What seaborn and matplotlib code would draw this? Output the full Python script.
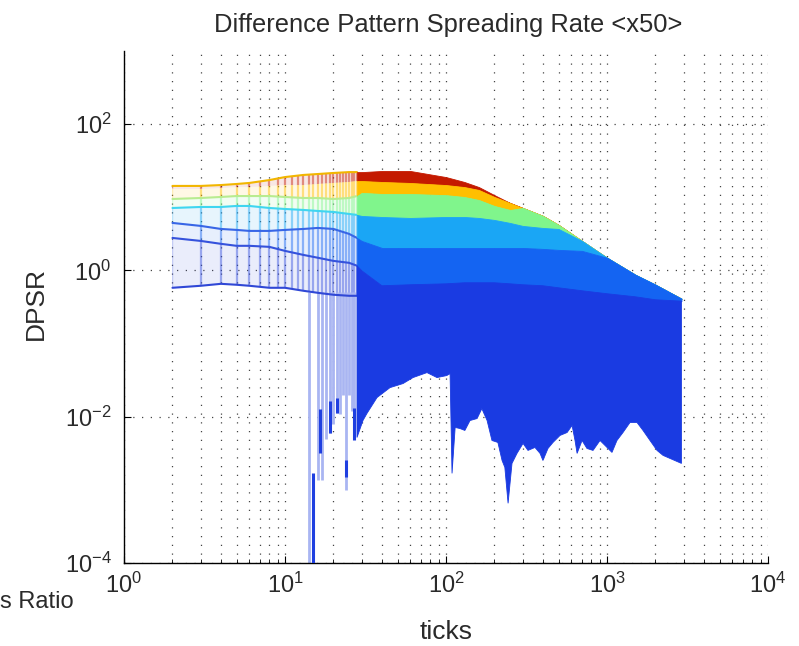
import matplotlib
matplotlib.use("Agg")
import matplotlib.pyplot as plt
import seaborn as sns
from matplotlib.ticker import FixedLocator, LogLocator, NullFormatter, NullLocator, LogFormatterMathtext

# ---------------- data ----------------
x_grid = [2, 3, 4, 5, 6, 8, 10, 13, 16, 20, 25, 28,
          30, 40, 60, 100, 130, 160, 200, 250, 300, 400, 500, 700, 1000, 1500, 2000, 2900]

edge_top = [14.3, 14.3, 14.7, 15.2, 15.7, 17.2, 18.9, 20.2, 20.8, 21.5, 22.1, 22.1,
            22.1, 22.9, 22.9, 18.9, 16.2, 13.8, 10.7, 8.36, 7.14, 5.56, 4.19, 2.53, 1.49, 0.871, 0.637, 0.410]
edge_b1 = [13.0, 13.0, 13.4, 13.8, 13.8, 14.3, 14.7, 14.7, 15.2, 15.7, 16.2, 16.7,
           16.7, 16.2, 15.7, 14.7, 13.8, 12.6, 10.1, 8.36, 7.14, 5.56, 4.19, 2.53, 1.49, 0.871, 0.637, 0.410]
edge_b2 = [9.48, 9.78, 10.1, 10.4, 10.4, 10.4, 10.1, 9.78, 9.78, 9.48, 9.78, 10.4,
           11.5, 11.1, 11.1, 10.7, 10.1, 9.19, 7.61, 6.71, 7.14, 5.56, 4.19, 2.53, 1.49, 0.871, 0.637, 0.410]
edge_b3 = [7.14, 7.37, 7.37, 7.61, 7.61, 7.14, 6.92, 6.71, 6.50, 6.30, 5.92, 5.74,
           5.56, 5.38, 5.22, 5.38, 5.38, 5.22, 4.90, 4.46, 4.06, 3.81, 3.69, 2.53, 1.49, 0.871, 0.637, 0.410]
edge_b4 = [4.46, 4.06, 3.69, 3.58, 3.47, 3.47, 3.58, 3.69, 3.81, 3.69, 3.16, 2.78,
           2.53, 2.03, 2.03, 2.03, 2.03, 2.03, 2.03, 2.03, 2.03, 1.97, 1.91, 1.85, 1.49, 0.871, 0.637, 0.410]
edge_b5 = [2.78, 2.53, 2.31, 2.17, 2.17, 2.10, 1.85, 1.63, 1.49, 1.35, 1.27, 1.16,
           0.988, 0.617, 0.637, 0.656, 0.678, 0.678, 0.678, 0.656, 0.637, 0.617, 0.579, 0.527, 0.480, 0.436, 0.397, 0.380]
edge_b6_pale = [0.579, 0.617, 0.656, 0.637, 0.617, 0.579, 0.579, 0.527, 0.494, 0.465, 0.450, 0.450]

bottom_x = [28, 30.5, 32.3, 37.3, 44.9, 54.1, 62.4, 76.2, 87.9, 101, 106, 109, 114, 122, 131, 141, 156, 167,
            180, 193, 210, 223, 232, 243, 257, 276, 301, 323, 357, 384, 400, 430, 462, 511, 565, 607, 633,
            652, 700, 751, 819, 905, 972, 1074, 1153, 1257, 1390, 1536, 1674, 1850, 2045, 2229, 2462, 2900]
bottom_y = [0.0052, 0.00887, 0.0111, 0.0183, 0.0250, 0.0284, 0.0343, 0.0401, 0.0343, 0.0365, 0.0388, 0.00168,
            0.00713, 0.00690, 0.00649, 0.00887, 0.00944, 0.0129, 0.00887, 0.00473, 0.00445, 0.00252, 0.00203,
            0.000655, 0.00230, 0.00315, 0.00431, 0.00346, 0.00380, 0.00315, 0.00252, 0.00368, 0.00445, 0.00555,
            0.00608, 0.00759, 0.00473, 0.00315, 0.00473, 0.00368, 0.00346, 0.00473, 0.00405, 0.00325, 0.00473,
            0.00608, 0.00834, 0.00834, 0.00649, 0.00473, 0.00346, 0.00296, 0.00269, 0.00230]

mesh_cols = [2, 3, 4, 5, 6, 7, 8, 9, 10, 11, 12, 13, 14, 15, 16, 17, 18, 19, 20, 21, 22, 23, 24, 25, 26, 27, 28]
drip_x = [14, 16, 17, 18, 19, 20, 21, 22, 23, 24, 25, 26, 27]
drip_low = [1e-5, 0.00135, 0.00135, 0.005, 0.0059, 0.008, 0.0111, 0.011, 0.02, 0.00098, 0.02, 0.012, 0.0052]
dark_x = [15, 16.5, 19, 21, 24, 27]
dark_hi = [0.00168, 0.0129, 0.0166, 0.0183, 0.00252, 0.0133]
dark_lo = [1e-5, 0.00315, 0.0059, 0.0114, 0.0015, 0.00473]

x_ticks = [1, 10, 100, 1000, 10000]
y_ticks = [1e-4, 1e-2, 1e0, 1e2]

# ---------------- style ----------------
sns.set_theme(style="white")
plt.rcParams['font.family'] = ['Liberation Sans', 'DejaVu Sans']
plt.rcParams['mathtext.fontset'] = 'custom'
plt.rcParams['mathtext.rm'] = 'Liberation Sans'
plt.rcParams['mathtext.it'] = 'Liberation Sans:italic'
plt.rcParams['mathtext.default'] = 'regular'

TXT = '#2a2a2a'
FS_TICK = 17
FS_LAB = 19
FS_TITLE = 18.4

W, H = 799, 646
fig = plt.figure(figsize=(W / 100, H / 100), dpi=100)
ax_left, ax_right, ax_top, ax_bot = 124, 768, 51, 563
ax = fig.add_axes([ax_left / W, 1 - ax_bot / H, (ax_right - ax_left) / W, (ax_bot - ax_top) / H])
ax.set_xscale('log')
ax.set_yscale('log')
ax.set_xlim(1, 1e4)
ax.set_ylim(1e-4, 1e3)

split = 11
bounds = [edge_top, edge_b1, edge_b2, edge_b3, edge_b4, edge_b5]
band_cols = ['#c41a00', '#ffbf00', '#80f58c', '#1aa6f5', '#1464f2']
dark_col = '#1a3be2'

xs_pale = x_grid[:split + 1]
xs_solid = x_grid[split:]

# pale (see-through) part of the surface with mesh columns
pale_lower_list = bounds[1:] + [edge_b6_pale]
pale_cols = band_cols + ['#3450e0']
for i in range(6):
    up = bounds[i][:split + 1]
    lo = pale_lower_list[i][:split + 1]
    patch = ax.fill(xs_pale + xs_pale[::-1], up + lo[::-1], color=pale_cols[i], alpha=0.10, lw=0, zorder=2)[0]
    vl = ax.vlines(mesh_cols, 1e-6, 1e4, colors=pale_cols[i], lw=1.6, alpha=0.45, zorder=2)
    vl.set_clip_path(patch)

# drips below the pale surface
ax.vlines(drip_x, drip_low, 0.5, colors='#a9b5f2', lw=2.0, zorder=2)
ax.vlines(dark_x, dark_lo, dark_hi, colors='#1f3fe0', lw=2.2, zorder=3)

# boundary lines in pale part
line_cols = ['#f2b600', None, '#b8ec90', '#3fd6f0', '#3866e6', '#3552dc']
for i, b in enumerate(bounds):
    if line_cols[i] is None:
        continue
    sns.lineplot(x=xs_pale, y=b[:split + 1], color=line_cols[i], lw=1.5, ax=ax, zorder=3, sort=False)
sns.lineplot(x=xs_pale, y=edge_b6_pale, color='#3048d6', lw=1.5, ax=ax, zorder=3, sort=False)

# solid part of the surface
for i in range(5):
    ax.fill_between(xs_solid, bounds[i][split:], bounds[i + 1][split:], color=band_cols[i],
                    lw=0.6, edgecolor=band_cols[i], zorder=4)
ax.fill(xs_solid + bottom_x[::-1], edge_b5[split:] + bottom_y[::-1], color=dark_col, lw=0.6, zorder=4)

# ---------------- axes ----------------
ax.xaxis.set_major_locator(FixedLocator(x_ticks))
ax.xaxis.set_minor_locator(LogLocator(base=10, subs=range(2, 10), numticks=20))
ax.xaxis.set_minor_formatter(NullFormatter())
ax.xaxis.set_major_formatter(LogFormatterMathtext())
ax.yaxis.set_major_locator(FixedLocator(y_ticks))
ax.yaxis.set_minor_locator(NullLocator())
ax.yaxis.set_major_formatter(LogFormatterMathtext())

grid_ls = (0, (1, 6))
ax.grid(True, which='major', axis='both', ls=grid_ls, color='#444444', lw=0.9)
ax.grid(True, which='minor', axis='x', ls=grid_ls, color='#444444', lw=0.9)
ax.set_axisbelow(True)

for s in ['top', 'right']:
    ax.spines[s].set_visible(False)
for s in ['left', 'bottom']:
    ax.spines[s].set_visible(True)
    ax.spines[s].set_color('black')
    ax.spines[s].set_linewidth(1.0)

ax.tick_params(axis='both', which='major', direction='in', length=5, width=0.8, colors='black',
               labelcolor=TXT, labelsize=FS_TICK, bottom=True, left=True)
ax.tick_params(axis='x', which='major', pad=7)
ax.tick_params(axis='y', which='major', pad=9)
ax.tick_params(axis='x', which='minor', direction='in', length=3, width=0.6, colors='black', bottom=True)

ax_h = ax_bot - ax_top
ax_w = ax_right - ax_left
ax.set_xlabel('ticks', fontsize=FS_LAB, color=TXT, va='center')
ax.xaxis.set_label_coords(0.5, -(632 - ax_bot) / ax_h)
ax.set_ylabel('DPSR', fontsize=FS_LAB, color=TXT, va='center')
ax.yaxis.set_label_coords(-(ax_left - 36) / ax_w, (ax_bot - 303) / ax_h)
fig.text(448 / W, 1 - 25 / H, 'Difference Pattern Spreading Rate <x50>', ha='center', va='center',
         fontsize=FS_TITLE, color=TXT)
fig.text(0.5 / W, 1 - 602 / H, 's Ratio', ha='left', va='center', fontsize=FS_TICK, color=TXT)

fig.savefig('out.png', dpi=100)
